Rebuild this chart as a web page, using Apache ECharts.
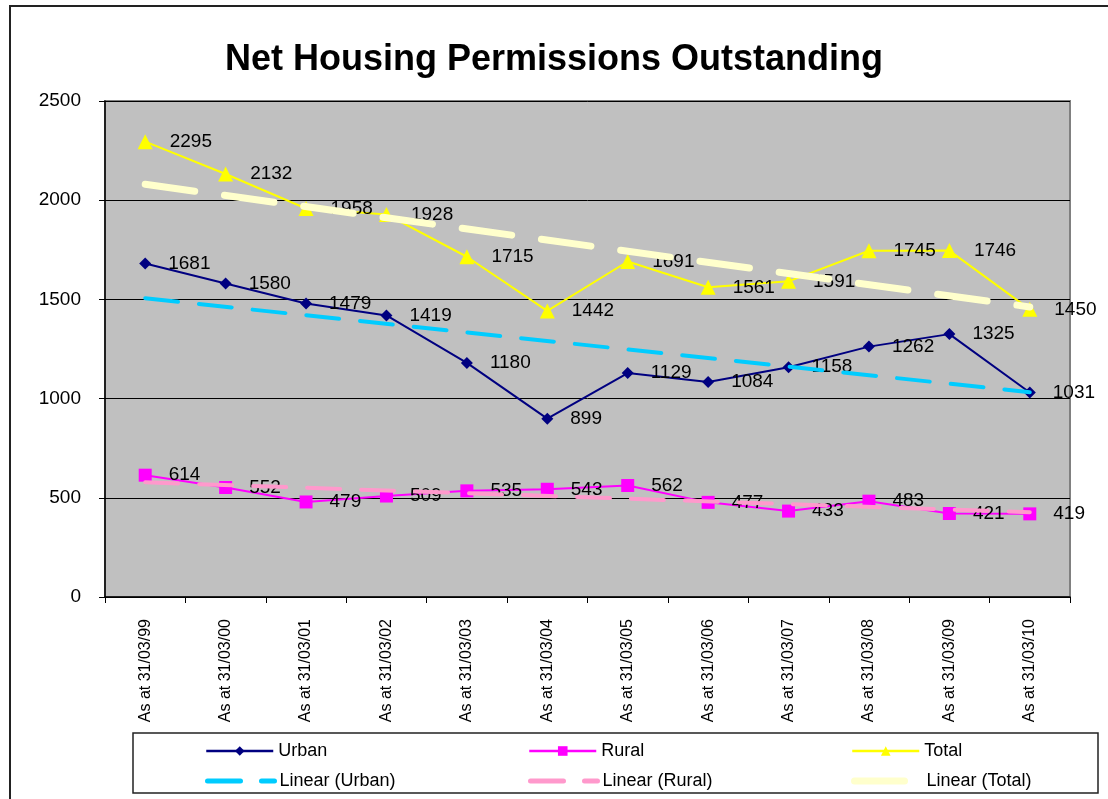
<!DOCTYPE html>
<html>
<head>
<meta charset="utf-8">
<title>Net Housing Permissions Outstanding</title>
<script src="https://cdn.jsdelivr.net/npm/echarts@6/dist/echarts.min.js"></script>
<style>
  html, body { margin: 0; padding: 0; background: #fff; }
  #chart { width: 1108px; height: 799px; }
</style>
</head>
<body>
<div id="chart"></div>
<script>
// 数据
const categories = [
  'As at 31/03/99', 'As at 31/03/00', 'As at 31/03/01', 'As at 31/03/02',
  'As at 31/03/03', 'As at 31/03/04', 'As at 31/03/05', 'As at 31/03/06',
  'As at 31/03/07', 'As at 31/03/08', 'As at 31/03/09', 'As at 31/03/10'
]
const urban = [1681, 1580, 1479, 1419, 1180, 899, 1129, 1084, 1158, 1262, 1325, 1031]
const rural = [614, 552, 479, 509, 535, 543, 562, 477, 433, 483, 421, 419]
const total = [2295, 2132, 1958, 1928, 1715, 1442, 1691, 1561, 1591, 1745, 1746, 1450]

// trend line end points: [category index, value]
const trendUrban = [[0, 1506], [11, 1032]]
const trendRural = [[0, 578], [11, 427]]
const trendTotal = [[0, 2080], [11, 1462]]

const yTicks = { min: 0, max: 2500, interval: 500 }

const FONT = '"Liberation Sans", Arial, sans-serif'

const chart = echarts.init(document.getElementById('chart'))

function dataSeries(name, data, color, symbol, size) {
  return {
    name: name,
    type: 'line',
    data: data,
    z: 2,
    symbol: symbol,
    symbolSize: size,
    showAllSymbol: true,
    lineStyle: { color: color, width: 2 },
    itemStyle: { color: color },
    label: {
      show: true,
      position: 'right',
      distance: 17,
      fontSize: 19,
      fontFamily: FONT,
      color: '#000'
    },
    emphasis: { disabled: true }
  }
}

function trendSeries(name, data, color, width, dash) {
  return {
    name: name,
    type: 'line',
    data: data,
    z: 5,
    symbol: 'none',
    lineStyle: { color: color, width: width, type: dash, cap: 'round' },
    itemStyle: { color: color },
    emphasis: { disabled: true }
  }
}

function legendItem(name, left, top, lineWidth, hideSymbol) {
  return {
    data: [hideSymbol ? { name: name, itemStyle: { opacity: 0 } } : name],
    left: left,
    top: top,
    itemWidth: 67,
    itemHeight: 12,
    itemGap: 0,
    selectedMode: false,
    lineStyle: { width: lineWidth },
    textStyle: { fontSize: 18, fontFamily: FONT, color: '#000', padding: [0, 0, 0, 0] }
  }
}

const option = {
  backgroundColor: '#fff',
  animation: false,
  title: {
    text: 'Net Housing Permissions Outstanding',
    left: 'center',
    top: 37,
    textStyle: { fontSize: 36, fontWeight: 'bold', fontFamily: FONT, color: '#000' }
  },
  graphic: [
    {
      type: 'rect',
      shape: { x: 10, y: 6, width: 1120, height: 820 },
      style: { fill: 'none', stroke: '#222', lineWidth: 2 },
      silent: true
    },
    {
      type: 'rect',
      shape: { x: 133, y: 733, width: 965, height: 60 },
      style: { fill: '#fff', stroke: '#222', lineWidth: 1.5 },
      silent: true,
      z: -1
    }
  ],
  legend: [
    legendItem('Urban', 200, 737, 2.5, false),
    legendItem('Rural', 523, 737, 2.5, false),
    legendItem('Total', 846, 737, 2.5, false),
    legendItem('Linear (Urban)', 200, 767, 5, true),
    legendItem('Linear (Rural)', 523, 767, 5, true),
    legendItem('Linear (Total)', 846, 767, 7, true)
  ],
  grid: {
    left: 105,
    top: 101,
    width: 965,
    height: 496,
    show: true,
    backgroundColor: '#c0c0c0',
    borderColor: '#808080',
    borderWidth: 2
  },
  xAxis: {
    type: 'category',
    data: categories,
    boundaryGap: true,
    axisLine: { show: true, lineStyle: { color: '#000', width: 1.5 } },
    axisTick: { show: true, interval: 0, length: 6, lineStyle: { color: '#000' } },
    axisLabel: {
      interval: 0,
      rotate: 90,
      margin: 22,
      fontSize: 16,
      fontFamily: FONT,
      color: '#000'
    },
    splitLine: { show: false }
  },
  yAxis: {
    type: 'value',
    min: yTicks.min,
    max: yTicks.max,
    interval: yTicks.interval,
    axisLine: { show: true, lineStyle: { color: '#000', width: 1.5 } },
    axisTick: { show: true, length: 6, lineStyle: { color: '#000' } },
    axisLabel: {
      margin: 24,
      fontSize: 19,
      fontFamily: FONT,
      color: '#000',
      formatter: v => String(v)
    },
    splitLine: { show: true, lineStyle: { color: '#000', width: 1 } }
  },
  series: [
    dataSeries('Urban', urban, '#000080', 'diamond', 12),
    dataSeries('Rural', rural, '#ff00ff', 'rect', 13),
    dataSeries('Total', total, '#ffff00', 'triangle', 15),
    trendSeries('Linear (Urban)', trendUrban, '#00ccff', 4, [33, 21]),
    trendSeries('Linear (Rural)', trendRural, '#ff99cc', 4, [33, 21]),
    trendSeries('Linear (Total)', trendTotal, '#ffffcc', 7, [50, 30])
  ]
}

chart.setOption(option)
</script>
</body>
</html>
